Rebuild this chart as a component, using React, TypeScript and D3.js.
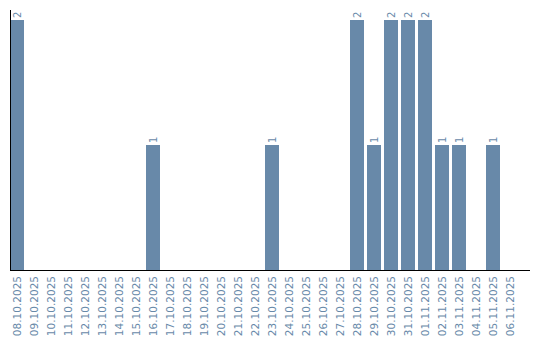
import React from "react";
import * as d3 from "d3";

const dates = [
  "08.10.2025","09.10.2025","10.10.2025","11.10.2025","12.10.2025","13.10.2025",
  "14.10.2025","15.10.2025","16.10.2025","17.10.2025","18.10.2025","19.10.2025",
  "20.10.2025","21.10.2025","22.10.2025","23.10.2025","24.10.2025","25.10.2025",
  "26.10.2025","27.10.2025","28.10.2025","29.10.2025","30.10.2025","31.10.2025",
  "01.11.2025","02.11.2025","03.11.2025","04.11.2025","05.11.2025","06.11.2025",
];
const counts = [
  2,0,0,0,0,0,0,0,1,0,0,0,0,0,0,1,0,0,0,0,2,1,2,2,2,1,1,0,1,0,
];

const W = 540;
const H = 340;
const left = 10;
const baseY = 270;
const topY = 20;
const color = "#6889a9";
const font = "DejaVu Sans, Verdana, sans-serif";

export default function App() {
  const x = d3
    .scaleBand<string>()
    .domain(dates)
    .range([left, left + 17 * dates.length])
    .paddingInner(3 / 17)
    .paddingOuter(1.5 / 17)
    .align(0);
  const y = d3.scaleLinear().domain([0, 2]).range([baseY, topY]);
  const bw = x.bandwidth();
  return (
    <svg width={W} height={H} style={{ position: "absolute", left: 0, top: 0 }}>
      {dates.map((d, i) => {
        const v = counts[i];
        const x0 = x(d) as number;
        const cx = x0 + bw / 2;
        return (
          <g key={d}>
            {v > 0 && (
              <>
                <rect x={x0} y={y(v)} width={bw} height={baseY - y(v)} fill={color} />
                <text
                  transform={`translate(${cx},${y(v) - 2}) rotate(-90)`}
                  dy="0.35em"
                  textAnchor="start"
                  fontSize={10}
                  fontFamily={font}
                  fill={color}
                >
                  {v}
                </text>
              </>
            )}
            <text
              transform={`translate(${cx},276) rotate(-90)`}
              dy="0.35em"
              textAnchor="end"
              fontSize={10.5}
              fontFamily={font}
              fill={color}
            >
              {d}
            </text>
          </g>
        );
      })}
      <line x1={left} x2={530} y1={baseY + 0.5} y2={baseY + 0.5} stroke="#000" />
      <line x1={left + 0.5} x2={left + 0.5} y1={10} y2={baseY} stroke="#000" />
    </svg>
  );
}
